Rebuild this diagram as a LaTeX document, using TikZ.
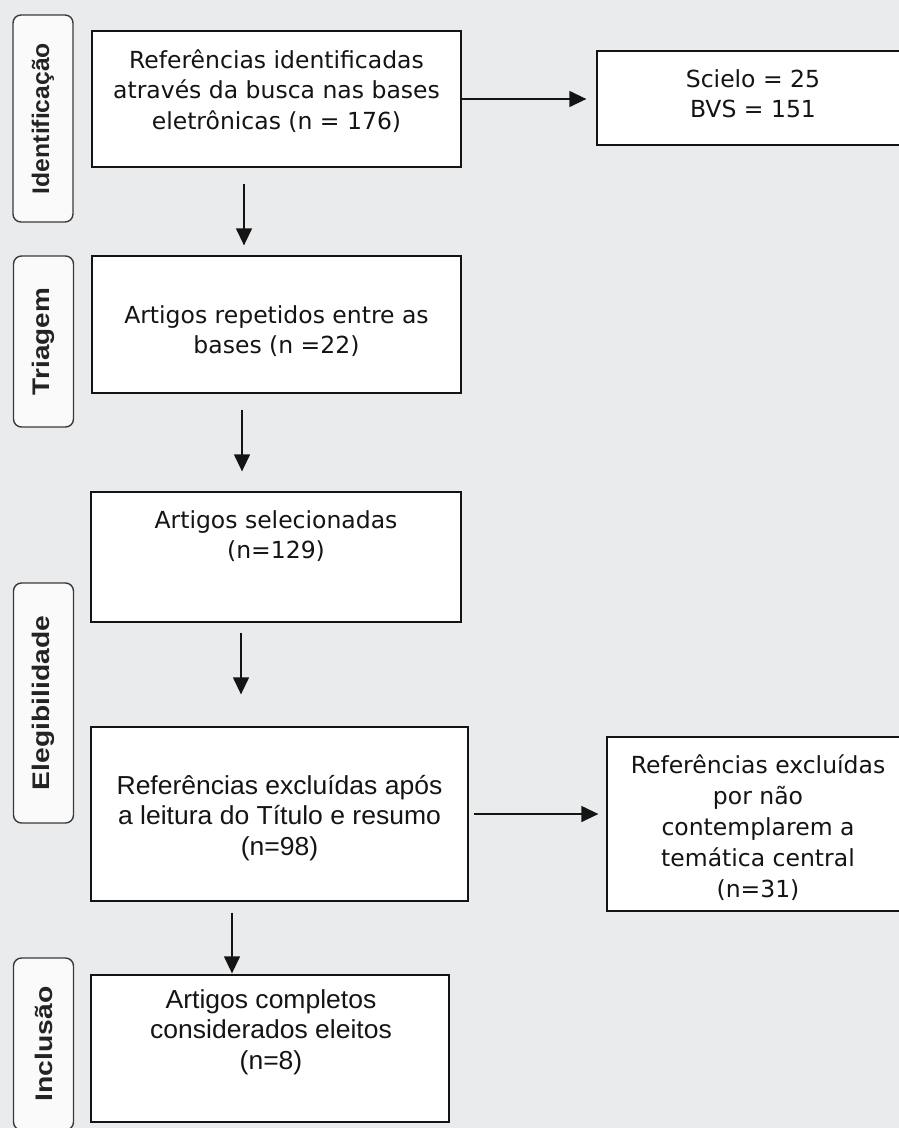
\documentclass[tikz,border=0pt]{standalone}
\usepackage{fontspec}
\usepackage{graphicx}
\usetikzlibrary{arrows.meta}
\newfontfamily\boxfont{DejaVu Sans}
\newfontfamily\arialfont[FakeStretch=1.02]{Liberation Sans}
\newfontfamily\phasefont{Liberation Sans}
\definecolor{pagebg}{HTML}{EAEBED}
\definecolor{phasefill}{HTML}{FAFAFA}
\definecolor{phaseline}{HTML}{3A3A3A}
\definecolor{inkcolor}{HTML}{141414}
\newcommand{\sidetext}[2]{\resizebox{#1}{\height}{#2}}

\tikzstyle{flowbox} = [draw=inkcolor, fill=white, line width=1.3pt,
    rectangle, inner sep=0pt]
\tikzstyle{flowtext} = [text=inkcolor, align=center, inner sep=0pt,
    font=\boxfont\fontsize{23.5}{30.5}\selectfont]
\tikzstyle{ariatext} = [text=inkcolor, align=center, inner sep=0pt,
    font=\arialfont\fontsize{26}{30.5}\selectfont]
\tikzstyle{phasebox} = [draw=phaseline, fill=phasefill, line width=1.4pt,
    rectangle, rounded corners=8pt, rotate=90, minimum height=60pt,
    text=phaseline!60!black, font=\phasefont\bfseries\fontsize{24}{28}\selectfont]
\tikzstyle{flowarrow} = [draw=inkcolor, line width=1.3pt,
    -{Triangle[length=17pt,width=16pt]}]

\begin{document}
\begin{tikzpicture}[x=1pt, y=1pt]
\fill[pagebg] (0,0) rectangle (899,-1128);
\useasboundingbox (0,0) rectangle (899,-1128);

\node[phasebox, minimum width=207pt] (identphase) at (43,-118.5) {\sidetext{151pt}{Identificação}};
\node[phasebox, minimum width=171pt] (triagemphase) at (43.5,-341.5) {\sidetext{107pt}{Triagem}};
\node[phasebox, minimum width=240pt] (elegphase) at (43.5,-703) {\sidetext{174pt}{Elegibilidade}};
\node[phasebox, minimum width=172pt] (inclphase) at (43.5,-1044) {\sidetext{115pt}{Inclusão}};

\node[flowbox, minimum width=369pt, minimum height=136pt] (ident) at (276.5,-99) {};
\node[flowtext] (identtext) at (276.5,-91) {Referências identificadas\\através da busca nas bases\\eletrônicas (n = 176)};
\node[flowbox, minimum width=312pt, minimum height=94pt] (bases) at (753,-98) {};
\node[flowtext] (basestext) at (753,-93.5) {Scielo = 25\\BVS = 151};
\node[flowbox, minimum width=369pt, minimum height=137pt] (triagem) at (276.5,-324.5) {};
\node[flowtext] (triagemtext) at (276.5,-331) {Artigos repetidos entre as\\bases (n =22)};
\node[flowbox, minimum width=370pt, minimum height=130pt] (selec) at (276,-557) {};
\node[flowtext] (selectext) at (276,-536) {Artigos selecionadas\\(n=129)};
\node[flowbox, minimum width=377pt, minimum height=174pt] (exclu) at (279.5,-814) {};
\node[ariatext] (exclutext) at (279.5,-818) {Referências excluídas após\\a leitura do Título e resumo\\(n=98)};
\node[flowbox, minimum width=302pt, minimum height=174pt] (tematica) at (758,-824) {};
\node[flowtext, font=\boxfont\fontsize{23.5}{31}\selectfont] (tematicatext) at (758,-827.5) {Referências excluídas\\por não\\contemplarem a\\temática central\\(n=31)};
\node[flowbox, minimum width=358pt, minimum height=147pt] (incl) at (270,-1048.5) {};
\node[ariatext] (incltext) at (271,-1032) {Artigos completos\\considerados eleitos\\(n=8)};

\draw[flowarrow, shorten >=10pt] (ident.east) -- (ident.east -| bases.west);
\draw[flowarrow, shorten <=16pt, shorten >=10pt] ([xshift=-32.5pt]ident.south) -- ([xshift=-32.5pt]triagem.north);
\draw[flowarrow, shorten <=16pt, shorten >=20pt] ([xshift=-34.5pt]triagem.south) -- ([xshift=-34.5pt]triagem.south |- selec.north);
\draw[flowarrow, shorten <=10pt, shorten >=32pt] ([xshift=-35pt]selec.south) -- ([xshift=-35pt]selec.south |- exclu.north);
\draw[flowarrow, shorten <=5pt, shorten >=8pt] (exclu.east) -- (exclu.east -| tematica.west);
\draw[flowarrow, shorten <=11pt, shorten >=1pt] ([xshift=-47.5pt]exclu.south) -- ([xshift=-47.5pt]exclu.south |- incl.north);
\end{tikzpicture}
\end{document}
